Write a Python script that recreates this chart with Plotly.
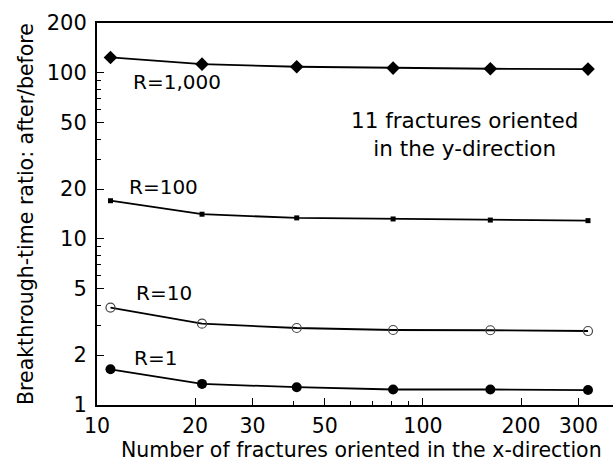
import numpy as np
import plotly.graph_objects as go

# ---- data ----
n_x = [11, 21, 41, 81, 161, 321]
r1000 = [124, 113, 109, 107, 106, 105.5]
r100 = [17.0, 14.1, 13.4, 13.2, 13.0, 12.9]
r10 = [3.86, 3.09, 2.91, 2.83, 2.82, 2.79]
r1 = [1.64, 1.34, 1.28, 1.24, 1.24, 1.23]

x_ticks = [10, 20, 30, 50, 100, 200, 300]
y_ticks = [1, 2, 5, 10, 20, 50, 100, 200]
x_minor = [40, 60, 70, 80, 90]
y_minor = [3, 4, 6, 7, 8, 9, 30, 40, 60, 70, 80, 90]

series = [
    ("R=1,000", r1000, dict(symbol="diamond", size=10.5, color="black")),
    ("R=100", r100, dict(symbol="square", size=5, color="black")),
    ("R=10", r10, dict(symbol="circle-open", size=9, color="#444", line=dict(width=1.2, color="#444"))),
    ("R=1", r1, dict(symbol="circle", size=10, color="black")),
]

# label positions (data coords)
labels = [
    ("R=1,000", 17.6, 88.6),
    ("R=100", 16.05, 20.6),
    ("R=10", 16.1, 4.71),
    ("R=1", 15.1, 1.93),
]

FONT = "DejaVu Sans"

fig = go.Figure()
for name, ys, mk in series:
    fig.add_trace(go.Scatter(
        x=n_x, y=ys, mode="lines+markers", name=name,
        line=dict(color="black", width=1.8),
        marker=mk, showlegend=False,
    ))

for txt, lx, ly in labels:
    fig.add_annotation(x=np.log10(lx), y=np.log10(ly), text=txt, showarrow=False,
                       font=dict(family=FONT, size=20, color="black"))

fig.add_annotation(x=np.log10(134.5), y=np.log10(42.4),
                   text="11 fractures oriented<br>in the y-direction",
                   showarrow=False, align="center",
                   font=dict(family=FONT, size=21.5, color="black"))

# x-axis title as a paper annotation (placed below tick labels)
fig.add_annotation(xref="paper", yref="paper", x=0.512, y=-0.082,
                   xanchor="center", yanchor="top", showarrow=False,
                   text="Number of fractures oriented in the x-direction",
                   font=dict(family=FONT, size=20.5, color="black"))

fig.update_layout(
    width=613, height=461,
    margin=dict(l=97, r=0, t=23, b=56),
    paper_bgcolor="white", plot_bgcolor="white",
    font=dict(family=FONT, size=20, color="black"),
    xaxis=dict(
        type="log", range=[1, np.log10(383)],
        tickvals=x_ticks, ticktext=[str(v) for v in x_ticks],
        ticks="inside", ticklen=7, tickwidth=1, tickcolor="black",
        showline=True, linecolor="black", linewidth=2, mirror=True,
        showgrid=False, zeroline=False,
        minor=dict(tickvals=x_minor, ticks="inside", ticklen=4, tickcolor="black", showgrid=False),
        ticklabelstandoff=1,
        tickfont=dict(family=FONT, size=20.5),
    ),
    yaxis=dict(
        type="log", range=[0, np.log10(200)],
        tickvals=y_ticks, ticktext=[str(v) for v in y_ticks],
        ticks="inside", ticklen=7, tickwidth=1, tickcolor="black",
        showline=True, linecolor="black", linewidth=2, mirror=False,
        showgrid=False, zeroline=False,
        minor=dict(tickvals=y_minor, ticks="inside", ticklen=4, tickcolor="black", showgrid=False),
        ticklabelstandoff=4,
        title=dict(text="Breakthrough-time ratio: after/before", standoff=8,
                   font=dict(family=FONT, size=20.5)),
        tickfont=dict(family=FONT, size=21),
    ),
)

fig.write_html("out.html")
